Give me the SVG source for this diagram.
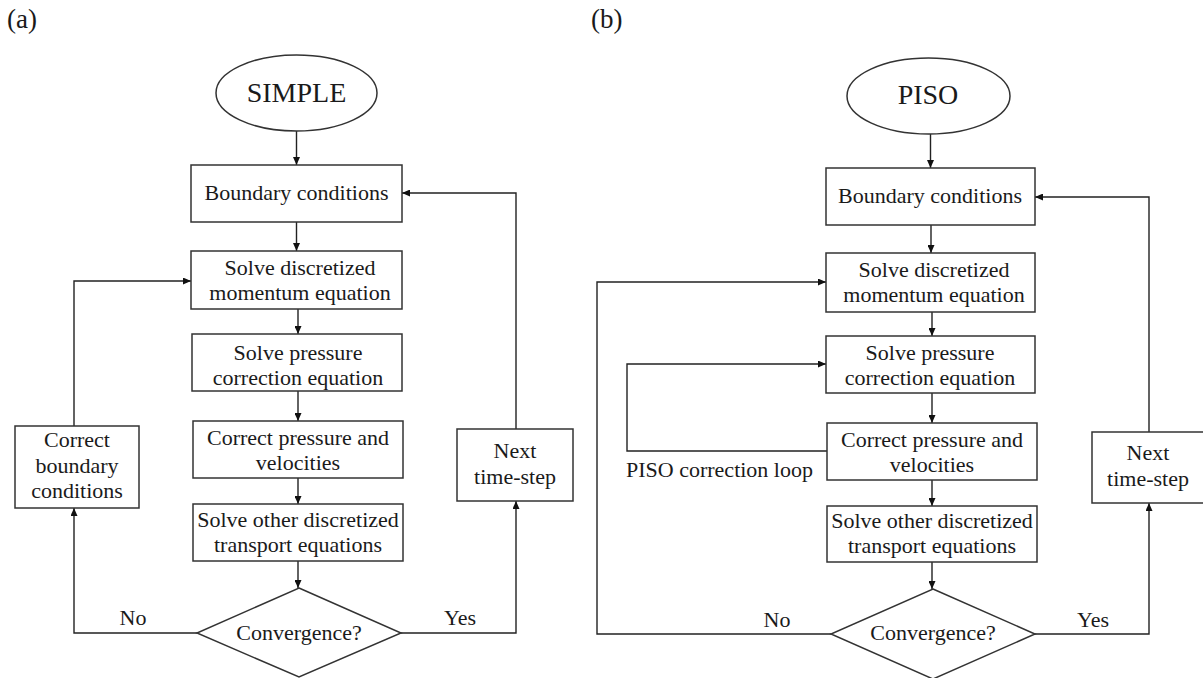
<svg xmlns="http://www.w3.org/2000/svg" width="1203" height="678" viewBox="0 0 1203 678">
<defs>
<marker id="ah" markerWidth="8" markerHeight="7" refX="8" refY="3.5" orient="auto" markerUnits="userSpaceOnUse">
<path d="M0,0 L8,3.5 L0,7 z" fill="#111"/>
</marker>
<style>
.box{fill:#fff;stroke:#333;stroke-width:1.5}
.ln{fill:none;stroke:#222;stroke-width:1.4;marker-end:url(#ah)}
.t{font-family:"Liberation Serif","Times New Roman",serif;font-size:22px;fill:#1a1a1a;text-anchor:middle}
.big{font-size:28px}
.lab{font-family:"Liberation Serif","Times New Roman",serif;font-size:27px;fill:#1a1a1a}
</style>
</defs>
<rect width="1203" height="678" fill="#fff"/>
<text class="lab" x="7" y="28">(a)</text>
<text class="lab" x="591" y="28">(b)</text>

<g id="connectors">
<path class="ln" d="M296.5 131 V165"/>
<path class="ln" d="M296.5 222 V251"/>
<path class="ln" d="M298 309 V334"/>
<path class="ln" d="M298 391 V421"/>
<path class="ln" d="M298 478 V504"/>
<path class="ln" d="M298 561 V588"/>
<path class="ln" d="M197 633 H74 V508"/>
<path class="ln" d="M74 426 V281 H191"/>
<path class="ln" d="M401 633 H516 V501"/>
<path class="ln" d="M516 429 V193 H402"/>
<text class="t" x="133" y="625">No</text>
<text class="t" x="460" y="625">Yes</text>

<path class="ln" d="M930.5 134 V168"/>
<path class="ln" d="M931 225 V253"/>
<path class="ln" d="M932 312 V336"/>
<path class="ln" d="M932 393 V423"/>
<path class="ln" d="M932 480 V506"/>
<path class="ln" d="M932 562 V589"/>
<path class="ln" d="M831 634 H597 V282 H826"/>
<path class="ln" d="M827 451 H627 V364 H826"/>
<path class="ln" d="M1035 634 H1149 V503"/>
<path class="ln" d="M1149 432 V197 H1035"/>
<text class="t" x="777" y="627">No</text>
<text class="t" x="1093" y="627">Yes</text>
<text class="t" x="626" y="477" style="text-anchor:start">PISO correction loop</text>
</g>

<g id="a-start">
<ellipse class="box" cx="296.5" cy="93" rx="80.5" ry="38"/>
<text class="t big" x="296.5" y="102">SIMPLE</text>
</g>
<g id="a-boundary">
<rect class="box" x="191" y="165" width="211" height="57"/>
<text class="t" x="296.5" y="200">Boundary conditions</text>
</g>
<g id="a-momentum">
<rect class="box" x="191" y="251" width="211" height="58"/>
<text class="t" x="300" y="275">Solve discretized</text>
<text class="t" x="300" y="300">momentum equation</text>
</g>
<g id="a-pressure">
<rect class="box" x="192" y="334" width="210" height="57"/>
<text class="t" x="298" y="360">Solve pressure</text>
<text class="t" x="298" y="385">correction equation</text>
</g>
<g id="a-correct">
<rect class="box" x="193" y="421" width="210" height="57"/>
<text class="t" x="298" y="445">Correct pressure and</text>
<text class="t" x="298" y="470">velocities</text>
</g>
<g id="a-other">
<rect class="box" x="193" y="504" width="210" height="57"/>
<text class="t" x="298" y="527">Solve other discretized</text>
<text class="t" x="298" y="552">transport equations</text>
</g>
<g id="a-convergence">
<polygon class="box" points="299,588 401,633 299,677 197,633"/>
<text class="t" x="299" y="640">Convergence?</text>
</g>
<g id="a-correct-bc">
<rect class="box" x="15" y="426" width="124" height="82"/>
<text class="t" x="77" y="447">Correct</text>
<text class="t" x="77" y="473">boundary</text>
<text class="t" x="77" y="498">conditions</text>
</g>
<g id="a-next">
<rect class="box" x="457" y="429" width="116" height="72"/>
<text class="t" x="515" y="458">Next</text>
<text class="t" x="515" y="484">time-step</text>
</g>

<g id="b-start">
<ellipse class="box" cx="928.5" cy="96" rx="81.5" ry="38"/>
<text class="t big" x="928" y="104">PISO</text>
</g>
<g id="b-boundary">
<rect class="box" x="826" y="168" width="209" height="57"/>
<text class="t" x="930" y="203">Boundary conditions</text>
</g>
<g id="b-momentum">
<rect class="box" x="826" y="253" width="209" height="59"/>
<text class="t" x="934" y="277">Solve discretized</text>
<text class="t" x="934" y="302">momentum equation</text>
</g>
<g id="b-pressure">
<rect class="box" x="826" y="336" width="209" height="57"/>
<text class="t" x="930" y="360">Solve pressure</text>
<text class="t" x="930" y="385">correction equation</text>
</g>
<g id="b-correct">
<rect class="box" x="827" y="423" width="210" height="57"/>
<text class="t" x="932" y="447">Correct pressure and</text>
<text class="t" x="932" y="472">velocities</text>
</g>
<g id="b-other">
<rect class="box" x="827" y="506" width="210" height="56"/>
<text class="t" x="932" y="528">Solve other discretized</text>
<text class="t" x="932" y="553">transport equations</text>
</g>
<g id="b-convergence">
<polygon class="box" points="933,589 1035,634 933,679 831,634"/>
<text class="t" x="933" y="640">Convergence?</text>
</g>
<g id="b-next">
<rect class="box" x="1092" y="432" width="116" height="71"/>
<text class="t" x="1148" y="460">Next</text>
<text class="t" x="1148" y="486">time-step</text>
</g>
</svg>
